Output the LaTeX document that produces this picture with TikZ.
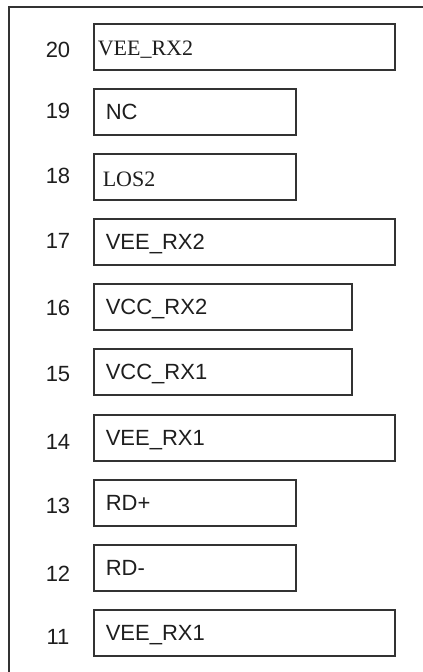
\documentclass[tikz,border=0pt]{standalone}
\usepackage{fontspec}
\setmainfont{Liberation Sans}
\newfontfamily\pinserif{Liberation Serif}
\definecolor{linec}{HTML}{333333}
\definecolor{textc}{HTML}{1E1E1E}
\begin{document}
\begin{tikzpicture}[x=1pt,y=-1pt,
  pinbox/.style={draw=linec, line width=1.6pt, anchor=north west, minimum height=46pt,
    inner xsep=12pt, inner ysep=0pt, align=left, text height=15.75pt, text depth=0pt,
    text=textc, font=\fontsize{22}{26}\selectfont},
  longbox/.style={pinbox, text width=277pt},
  midbox/.style={pinbox, text width=234pt},
  shortbox/.style={pinbox, text width=178pt},
  pinnum/.style={text=textc, font=\fontsize{22}{26}\selectfont, inner sep=0pt}]
\useasboundingbox (0,0) rectangle (423,672);
\fill[white] (0,0) rectangle (423,672);
\draw[linec, line width=1.6pt] (423,7) -- (9,7) -- (9,673);
% pin boxes
\node[longbox]  (p20) at (93,23)  {\hspace*{-8pt}{\pinserif\raisebox{-1pt}{VEE\_RX2}}};
\node[shortbox] (p19) at (93,88)  {NC};
\node[shortbox] (p18) at (93,153) {\hspace*{-3pt}{\pinserif\raisebox{-2pt}{LOS2}}};
\node[longbox]  (p17) at (93,218) {VEE\_RX2};
\node[midbox]   (p16) at (93,283) {VCC\_RX2};
\node[midbox]   (p15) at (93,348) {VCC\_RX1};
\node[longbox]  (p14) at (93,414) {VEE\_RX1};
\node[shortbox] (p13) at (93,479) {RD+};
\node[shortbox] (p12) at (93,544) {RD-};
\node[longbox]  (p11) at (93,609) {VEE\_RX1};
% pin numbers
\node[pinnum] (n20) at (58,50)  {20};
\node[pinnum] (n19) at (58,111) {19};
\node[pinnum] (n18) at (58,176) {18};
\node[pinnum] (n17) at (58,241) {17};
\node[pinnum] (n16) at (58,308) {16};
\node[pinnum] (n15) at (58,374) {15};
\node[pinnum] (n14) at (58,442) {14};
\node[pinnum] (n13) at (58,506) {13};
\node[pinnum] (n12) at (58,574) {12};
\node[pinnum] (n11) at (58,637) {11};
\end{tikzpicture}
\end{document}
